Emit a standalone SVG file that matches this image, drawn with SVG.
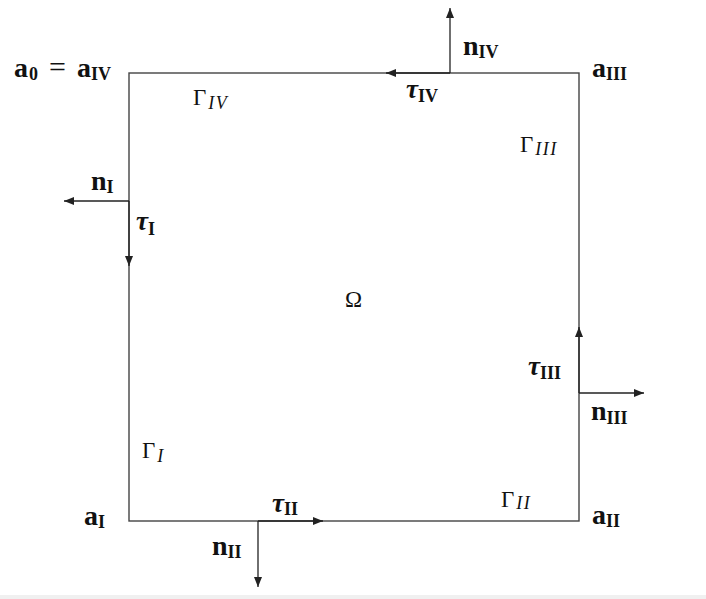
<svg xmlns="http://www.w3.org/2000/svg" width="706" height="599" viewBox="0 0 706 599">
<defs>
<marker id="ah" viewBox="0 0 10 8" refX="10" refY="4" markerWidth="10" markerHeight="8" markerUnits="userSpaceOnUse" orient="auto">
<path d="M0,0 L10,4 L0,8 z" fill="#222"/>
</marker>
<style>
.edge{fill:none;stroke:#444;stroke-width:1.4}
.arr{fill:none;stroke:#222;stroke-width:1.3;marker-end:url(#ah)}
text{font-family:"Liberation Serif","DejaVu Serif",serif;fill:#111}
.b{font-weight:bold;font-size:28px}
.t{font-weight:bold;font-size:27px}
.g{font-size:23px}
.s{font-size:18px}
.si{font-size:18px;font-style:italic;letter-spacing:1.5px}
.it{font-style:italic}
</style>
</defs>
<rect x="0" y="0" width="706" height="599" fill="#fff"/>
<rect x="0" y="595" width="706" height="4" fill="#f0f0f0"/>
<g id="domain">
<rect class="edge" x="129" y="73" width="450" height="448"/>
</g>
<g id="connectors">
<line class="arr" x1="450" y1="73" x2="450" y2="8"/>
<line class="arr" x1="450" y1="73" x2="386" y2="73"/>
<line class="arr" x1="129" y1="201" x2="64" y2="201"/>
<line class="arr" x1="129" y1="201" x2="129" y2="266"/>
<line class="arr" x1="579" y1="393" x2="579" y2="327"/>
<line class="arr" x1="579" y1="393" x2="644" y2="393"/>
<line class="arr" x1="258" y1="521" x2="323" y2="521"/>
<line class="arr" x1="258" y1="521" x2="258" y2="587"/>
</g>
<g id="label-a0">
<text y="77" class="b"><tspan x="14">a</tspan><tspan x="29" class="s" dy="3">0</tspan><tspan x="49" dy="-3" font-weight="normal" font-size="30">=</tspan><tspan x="77">a</tspan><tspan x="91" class="s" dy="3">IV</tspan></text>
</g>
<g id="label-aIII"><text x="592" y="77" class="b">a<tspan class="s" dy="3">III</tspan></text></g>
<g id="label-aI"><text x="84" y="525" class="b">a<tspan class="s" dy="3">I</tspan></text></g>
<g id="label-aII"><text x="592" y="524" class="b">a<tspan class="s" dy="3">II</tspan></text></g>
<g id="label-nIV"><text x="463" y="55" class="b">n<tspan class="s" dy="3">IV</tspan></text></g>
<g id="label-nI"><text x="91" y="190" class="b">n<tspan class="s" dy="3">I</tspan></text></g>
<g id="label-nIII"><text x="591" y="420" class="b">n<tspan class="s" dy="4">III</tspan></text></g>
<g id="label-nII"><text x="212" y="555" class="b">n<tspan class="s" dy="3">II</tspan></text></g>
<g id="label-tauIV"><text x="406" y="98" class="t"><tspan class="it">τ</tspan><tspan class="s" dy="4">IV</tspan></text></g>
<g id="label-tauI"><text x="136" y="230" class="t"><tspan class="it">τ</tspan><tspan class="s" dy="5">I</tspan></text></g>
<g id="label-tauIII"><text x="528" y="375" class="t"><tspan class="it">τ</tspan><tspan class="s" dy="4">III</tspan></text></g>
<g id="label-tauII"><text x="272" y="512" class="t"><tspan class="it">τ</tspan><tspan class="s" dy="3">II</tspan></text></g>
<g id="label-GammaIV"><text x="193" y="105" class="g">Γ<tspan class="si" dx="2" dy="4">IV</tspan></text></g>
<g id="label-GammaIII"><text x="520" y="152" class="g">Γ<tspan class="si" dx="2" dy="3">III</tspan></text></g>
<g id="label-GammaI"><text x="142" y="458" class="g">Γ<tspan class="si" dx="2" dy="4">I</tspan></text></g>
<g id="label-GammaII"><text x="501" y="507" class="g">Γ<tspan class="si" dx="2" dy="2">II</tspan></text></g>
<g id="label-Omega"><text x="345" y="307" class="g">Ω</text></g>
</svg>
